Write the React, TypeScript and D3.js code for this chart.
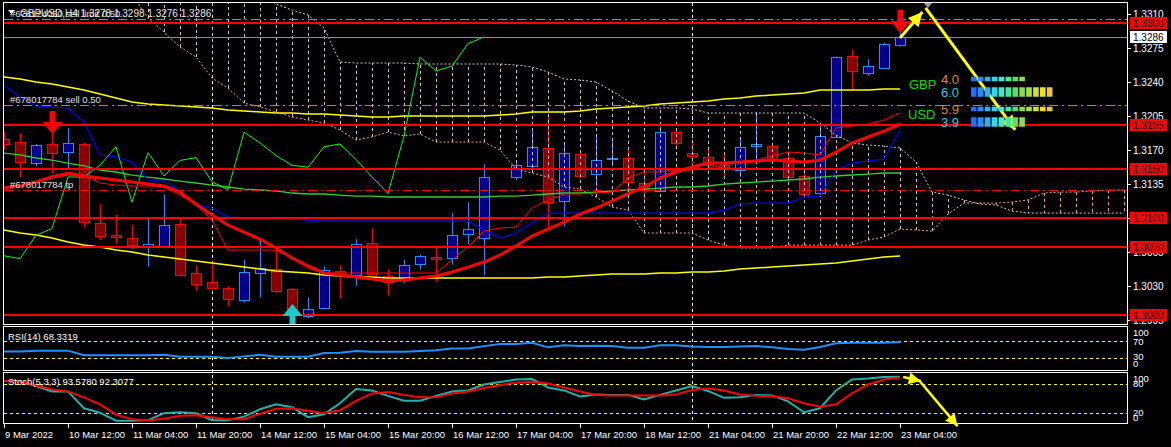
import React from "react";
import * as d3 from "d3";

// ---------- DATA (GBPUSD H4, bars 9 Mar 20:00 .. 23 Mar 04:00) ----------
const opens = [1.3181,1.3178,1.3156,1.3176,1.3168,1.3176,1.3095,1.3082,1.3079,1.3071,
 1.3071,1.3094,1.3043,1.3034,1.3028,1.3016,1.3043,1.3047,1.3027,1.2999,
 1.3007,1.3045,1.3041,1.3074,1.3040,1.3036,1.3053,1.3060,1.3059,1.3083,
 1.3079,1.3142,1.3142,1.3153,1.3172,1.3117,1.3166,1.3145,1.3160,1.3161,
 1.3136,1.3128,1.3188,1.3167,1.3163,1.3154,1.3149,1.3174,1.3174,1.3162,
 1.3143,1.3126,1.3183,1.3266,1.3249,1.3254,1.3278];
const highs = [1.3188,1.3187,1.3176,1.3187,1.3192,1.3177,1.3114,1.3103,1.3093,1.3100,
 1.3124,1.3099,1.3051,1.3055,1.3030,1.3057,1.3078,1.3069,1.3028,1.3018,
 1.3050,1.3051,1.3078,1.3089,1.3047,1.3057,1.3062,1.3069,1.3105,1.3116,
 1.3155,1.3142,1.3157,1.3189,1.3205,1.3175,1.3170,1.3183,1.3182,1.3172,
 1.3147,1.3194,1.3190,1.3177,1.3172,1.3168,1.3183,1.3209,1.3177,1.3168,
 1.3146,1.3195,1.3266,1.3273,1.3263,1.3280,1.3298];
const lows = [1.3170,1.3142,1.3153,1.3146,1.3149,1.3090,1.3077,1.3073,1.3068,1.3050,
 1.3071,1.3040,1.3025,1.3028,1.3009,1.3013,1.3018,1.3023,1.3002,1.2997,
 1.3006,1.3017,1.3030,1.3042,1.3020,1.3033,1.3047,1.3034,1.3052,1.3073,
 1.3041,1.3142,1.3139,1.3147,1.3089,1.3091,1.3141,1.3132,1.3153,1.3129,
 1.3118,1.3128,1.3174,1.3149,1.3149,1.3141,1.3142,1.3155,1.3156,1.3137,
 1.3123,1.3125,1.3183,1.3232,1.3246,1.3254,1.3276];
const closes = [1.3176,1.3157,1.3175,1.3167,1.3177,1.3096,1.3081,1.3080,1.3072,1.3073,
 1.3093,1.3041,1.3032,1.3028,1.3017,1.3044,1.3048,1.3025,1.3005,1.3006,
 1.3046,1.3042,1.3073,1.3042,1.3034,1.3052,1.3061,1.3058,1.3082,1.3089,
 1.3142,1.3142,1.3154,1.3173,1.3116,1.3167,1.3143,1.3159,1.3162,1.3137,
 1.3129,1.3188,1.3177,1.3164,1.3154,1.3152,1.3173,1.3176,1.3160,1.3142,
 1.3125,1.3184,1.3265,1.3251,1.3256,1.3279,1.3286];

const tenkan = [1.31296,1.31327,1.31378,1.31430,1.31471,1.31440,1.31358,1.31337,1.31327,1.31327,
 1.31317,1.31234,1.31132,1.30977,1.30669,1.30669,1.30669,1.30669,1.30587,1.30484,
 1.30433,1.30433,1.30433,1.30433,1.30433,1.30433,1.30433,1.30433,1.30566,1.30700,
 1.30864,1.30895,1.30905,1.31101,1.31183,1.31245,1.31245,1.31255,1.31265,1.31409,
 1.31471,1.31471,1.31491,1.31491,1.31512,1.31543,1.31574,1.31594,1.31635,1.31676,
 1.31666,1.31646,1.31923,1.31944,1.31964,1.32005,1.32077];
const kijun = [1.32365,1.32242,1.32149,1.32139,1.32129,1.31985,1.31646,1.31625,1.31574,1.31389,
 1.31378,1.31286,1.31132,1.31101,1.31008,1.30998,1.30998,1.30998,1.30988,1.30977,
 1.30967,1.30967,1.30967,1.30967,1.30967,1.30967,1.30967,1.30967,1.30967,1.30967,
 1.30875,1.30792,1.30844,1.30947,1.31049,1.31049,1.31049,1.31049,1.31049,1.31049,
 1.31049,1.31049,1.31049,1.31049,1.31049,1.31080,1.31142,1.31152,1.31152,1.31152,
 1.31214,1.31224,1.31491,1.31563,1.31584,1.31605,1.31903];
const SPAN_A_START = 8;
const spanA = [1.3330,1.33054,1.32910,1.32756,1.32653,1.32437,1.32334,1.32180,1.32139,1.32088,
 1.32036,1.32005,1.31975,1.31903,1.31800,1.31831,1.31882,1.31841,1.31862,
 1.31779,1.31779,1.31779,1.31779,
 1.31697,1.31502,1.31461,1.31419,1.31317,1.31296,1.31214,1.31111,1.31080,
 1.30844,1.30844,1.30844,1.30844,1.30772,1.30720,1.30690,1.30690,1.30690,
 1.30720,1.30720,1.30720,1.30720,1.30720,1.30772,1.30803,1.30885,1.30875,1.30864,
 1.31039,1.31152,1.31152,1.31152,1.31162,1.31183,1.31255,1.31265,1.31265,1.31276,1.31286,1.31286];
const SPAN_B_START = 9;
const spanB = [1.3335,1.3335,1.3335,1.3335,1.3335,1.3335,1.3335,1.3329,
 1.33198,1.33136,1.33085,1.32951,1.32602,1.32591,1.32591,1.32591,1.32591,
 1.32581,1.32581,1.32581,1.32581,1.32581,1.32581,
 1.32571,1.32550,1.32499,1.32427,1.32417,1.32396,1.32304,1.32201,
 1.32129,1.32129,1.32129,1.32119,
 1.32077,1.32077,1.32077,1.32077,1.32077,1.32077,1.32077,
 1.31975,1.31851,1.31769,1.31748,1.31738,1.31718,1.31574,1.31265,1.31234,1.31183,1.31142,1.31132,1.31070,
 1.31049,1.31049,1.31049,1.31049,1.31049,1.31049,1.31049];
const maThickRed = [1.31306,1.31327,1.31368,1.31419,1.31450,1.31430,1.31409,1.31389,1.31368,1.31347,
 1.31327,1.31265,1.31142,1.31029,1.30926,1.30854,1.30782,1.30690,1.30587,1.30505,
 1.30433,1.30412,1.30391,1.30371,1.30350,1.30361,1.30381,1.30402,1.30443,1.30494,
 1.30546,1.30618,1.30710,1.30813,1.30885,1.30957,1.31039,1.31101,1.31173,1.31245,
 1.31317,1.31409,1.31471,1.31522,1.31563,1.31563,1.31574,1.31584,1.31594,1.31584,
 1.31574,1.31594,1.31676,1.31769,1.31831,1.31892,1.31964];
const maGreen = [1.31666,1.31646,1.31615,1.31594,1.31563,1.31533,1.31491,1.31471,1.31440,1.31419,
 1.31399,1.31378,1.31358,1.31337,1.31317,1.31296,1.31286,1.31276,1.31255,1.31245,
 1.31245,1.31234,1.31224,1.31224,1.31214,1.31214,1.31214,1.31214,1.31214,1.31214,
 1.31214,1.31224,1.31224,1.31234,1.31245,1.31255,1.31255,1.31265,1.31276,1.31286,
 1.31296,1.31306,1.31317,1.31317,1.31327,1.31347,1.31358,1.31368,1.31378,1.31389,
 1.31399,1.31419,1.31430,1.31440,1.31450,1.31461,1.31461];
const maYellowUpper = [1.32447,1.32427,1.32396,1.32376,1.32345,1.32314,1.32273,1.32232,1.32190,1.32170,
 1.32160,1.32149,1.32139,1.32129,1.32108,1.32098,1.32088,1.32077,1.32077,1.32067,1.32067,
 1.32057,1.32047,1.32036,1.32036,1.32047,1.32047,1.32047,1.32047,1.32047,1.32047,
 1.32057,1.32067,1.32088,1.32088,1.32088,1.32098,1.32119,1.32129,1.32139,1.32149,
 1.32170,1.32180,1.32190,1.32201,1.32221,1.32232,1.32252,1.32262,1.32273,1.32283,
 1.32314,1.32314,1.32314,1.32314,1.32324,1.32324];
const maYellowLower = [1.30875,1.30844,1.30823,1.30792,1.30751,1.30720,1.30700,1.30669,1.30648,1.30618,
 1.30597,1.30577,1.30556,1.30535,1.30515,1.30494,1.30474,1.30453,1.30443,1.30433,1.30412,
 1.30402,1.30391,1.30391,
 1.30381,1.30381,1.30381,1.30381,1.30381,1.30381,1.30381,1.30381,1.30381,1.30381,
 1.30391,1.30391,1.30402,1.30412,1.30422,1.30422,1.30422,1.30433,1.30433,1.30443,1.30443,
 1.30453,1.30474,1.30484,1.30494,1.30505,1.30515,1.30525,1.30535,1.30556,1.30577,1.30597,1.30607];

const rsi = [45,45,47,47,47,36,36,36,36,36,37,32,32,32,29,33,37,32,32,32,41,42,46,44,44,
 44,46,48,52,52,58,63,63,66,55,60,58,59,58,54,54,60,60,57,56,56,57,58,55,51,49,56,65,66,66,66,68.3319];
const stochMain = [85,85,75,64,64,30,21,5,5,6,20,22,20,6,6,13,28,38,32,12,18,40,69,66,
 55,45,45,55,64,66,78,83,88,89,72,66,54,58,57,57,48,57,66,75,65,51,52,57,56,44,22,30,66,88,90,93,93.578];
const stochSignal = [85,84,76,68,64,52,38,17,8,6,9,15,16,12,8,8,19,29,30,25,20,26,45,60,
 63,57,52,52,60,64,71,77,82,83,80,72,64,57,56,56,56,56,58,67,70,66,58,55,54,50,40,33,38,60,78,88,92.3077];

const timeLabels = ["9 Mar 2022","10 Mar 12:00","11 Mar 04:00","11 Mar 20:00","14 Mar 12:00","15 Mar 04:00",
 "15 Mar 20:00","16 Mar 12:00","17 Mar 04:00","17 Mar 20:00","18 Mar 12:00","21 Mar 04:00","21 Mar 20:00",
 "22 Mar 12:00","23 Mar 04:00"];
const timeLabelBars = [0,4,8,12,16,20,24,28,32,36,40,44,48,52,56];
const separatorBars = [13, 43];
const priceTicks = [1.3310,1.3275,1.3240,1.3205,1.3170,1.3135,1.3100,1.3065,1.3030,1.2995];
const levelLines = [1.3300,1.3195,1.3150,1.3100,1.3070,1.3000];
const bidPrice = 1.3286;
const orderLines = [
  { price: 1.3304, label: "#678124050 sell limit 0.50", color: "#32CD32" },
  { price: 1.3216, label: "#678017784 sell 0.50", color: "#32CD32" },
  { price: 1.3129, label: "#678017784 tp", color: "#FF0000" },
];
const sellArrows = [{ bar: 3, price: 1.31862 }, { bar: 56, price: 1.3290 }];
const buyArrows = [{ bar: 18, price: 1.30115 }];
const trendArrows = [
  { from: [56, 1.32848], to: [57.4, 1.33115] },
  { from: [57.6, 1.33157], to: [63.2, 1.31903] },
];
const stochArrows = [
  { from: [56.2, 93], to: [57.3, 85] },
  { from: [57.2, 86], to: [59.6, -6] },
];
const strengthCurrencies = ["GBP", "USD"];
const strengthValues = [[4.0, 6.0], [5.9, 3.9]];
const strengthPalette = ["#1E6FFF","#1E90FF","#22B4F8","#25DCF0","#30F0D0","#3CEBA0",
 "#55E060","#86E040","#ACE040","#D2E030","#F0E020","#F0C830"];

const FONT = "'Liberation Sans', Arial, sans-serif";

function headPts(x1: number, y1: number, x2: number, y2: number, len = 13, half = 6.5) {
  const a = Math.atan2(y2 - y1, x2 - x1);
  const bx = x2 - len * Math.cos(a), by = y2 - len * Math.sin(a);
  const px = -Math.sin(a) * half, py = Math.cos(a) * half;
  return `${x2},${y2} ${bx + px},${by + py} ${bx - px},${by - py}`;
}

export default function App() {
  const x = d3.scaleLinear().domain([0, 70]).range([4, 1124]);
  const y = d3.scaleLinear().domain([1.2995, 1.331]).range([320, 13.5]);
  const yR = d3.scaleLinear().domain([0, 100]).range([369.9, 328.9]);
  const yS = d3.scaleLinear().domain([0, 100]).range([423.1, 373.6]);

  const mk = (sc: (v: number) => number) =>
    d3.line<number | null>().defined((d) => d != null).x((_, i) => x(i)).y((d) => sc(d as number));
  const lp = mk(y), lr = mk(yR), ls = mk(yS);

  const spanAFull: (number | null)[] = [...Array(SPAN_A_START).fill(null), ...spanA];
  const spanBFull: (number | null)[] = [...Array(SPAN_B_START).fill(null), ...spanB];
  const chikou: (number | null)[] = closes.map((_, i) => (i + 26 < closes.length ? closes[i + 26] : null));

  const hatches: JSX.Element[] = [];
  for (let i = 0; i <= 70; i++) {
    const a = spanAFull[i], b = spanBFull[i];
    if (a == null || b == null) continue;
    hatches.push(
      <line key={"h" + i} x1={x(i) + 0.5} x2={x(i) + 0.5} y1={y(a)} y2={y(b)}
        stroke={a >= b ? "#F4A460" : "#D8BFD8"} strokeDasharray="3,3" strokeWidth={1} />
    );
  }

  const candles = opens.map((o, i) => {
    const h = highs[i], l = lows[i], c = closes[i];
    if (h <= l) return null;
    const bull = c >= o;
    const cx = x(i) + 0.5;
    const top = Math.round(y(Math.max(o, c))) + 0.5;
    const bot = Math.round(y(Math.min(o, c))) + 0.5;
    const edge = bull ? "#1E90FF" : "#FF0000";
    return (
      <g key={"c" + i}>
        <line x1={cx} x2={cx} y1={y(h)} y2={y(l)} stroke={edge} strokeWidth={1} />
        <rect x={cx - 5} y={top} width={10} height={Math.max(1, bot - top)}
          fill={bull ? "#00008B" : "#8B0000"} stroke={edge} strokeWidth={1} />
      </g>
    );
  });

  const txt = { fontFamily: FONT, fontSize: 10, fill: "#FFFFFF" } as const;

  return (
    <div style={{ position: "fixed", left: 0, top: 0, width: 1171, height: 447, background: "#000" }}>
      <svg width={1171} height={447} style={{ display: "block", background: "#000" }}>
        <defs>
          <clipPath id="mainClip"><rect x={4} y={3} width={1123} height={321} /></clipPath>
        </defs>

        {/* period separators */}
        {separatorBars.map((b) => (
          <line key={"sep" + b} x1={x(b) + 0.5} x2={x(b) + 0.5} y1={3} y2={423}
            stroke="#FFFFFF" strokeDasharray="3,3" strokeWidth={1} />
        ))}

        <g clipPath="url(#mainClip)">
          {candles}
          {hatches}
          <path d={lp(spanAFull) || ""} fill="none" stroke="#F4A460" strokeDasharray="2,2" />
          <path d={lp(spanBFull) || ""} fill="none" stroke="#D8BFD8" strokeDasharray="2,2" />
          <path d={lp(maYellowUpper) || ""} fill="none" stroke="#FFFF00" strokeWidth={1.5} />
          <path d={lp(maYellowLower) || ""} fill="none" stroke="#FFFF00" strokeWidth={1.5} />
          <path d={lp(maGreen) || ""} fill="none" stroke="#32CD32" strokeWidth={1.3} />
          <path d={lp(kijun) || ""} fill="none" stroke="#0000FF" strokeWidth={1.2} />
          <path d={lp(chikou) || ""} fill="none" stroke="#00FF00" strokeWidth={1} />
          <path d={lp(tenkan) || ""} fill="none" stroke="#FF0000" strokeWidth={1} />
          <path d={lp(maThickRed) || ""} fill="none" stroke="#FF0000" strokeWidth={3} />

          {/* order lines */}
          {orderLines.map((o, k) => (
            <line key={"ol" + k} x1={4} x2={1127} y1={Math.round(y(o.price)) + 0.5} y2={Math.round(y(o.price)) + 0.5}
              stroke={o.color} strokeDasharray="9,4,2,4" strokeWidth={1} />
          ))}
          {/* bid line */}
          <line x1={4} x2={1127} y1={Math.round(y(bidPrice)) + 0.5} y2={Math.round(y(bidPrice)) + 0.5} stroke="#8C8C8C" />
          {/* level lines */}
          {levelLines.map((p) => (
            <line key={"lv" + p} x1={4} x2={1130} y1={Math.round(y(p))} y2={Math.round(y(p))} stroke="#FF0000" strokeWidth={2} />
          ))}
          {/* signal arrows */}
          {sellArrows.map((a, k) => {
            const cx = x(a.bar) + 0.5, ty = y(a.price);
            return (
              <path key={"sa" + k} fill="#FF0000"
                d={`M${cx - 3},${ty - 23}H${cx + 3}V${ty - 12}H${cx + 10}L${cx},${ty}L${cx - 10},${ty - 12}H${cx - 3}Z`} />
            );
          })}
          {buyArrows.map((a, k) => {
            const cx = x(a.bar) + 0.5, ty = y(a.price);
            return (
              <path key={"ba" + k} fill="#1CCACA"
                d={`M${cx - 3},${ty + 23}H${cx + 3}V${ty + 12}H${cx + 10}L${cx},${ty}L${cx - 10},${ty + 12}H${cx - 3}Z`} />
            );
          })}
        </g>

        {/* order labels and header */}
        {orderLines.map((o, k) => (
          <text key={"olt" + k} x={10} y={Math.round(y(o.price)) - 2} {...txt} fontSize={9.5} fill="#E0E0E0">{o.label}</text>
        ))}
        <path d="M8,10 L15,10 L11.5,14 Z" fill="#FFFFFF" />
        <text x={20} y={17} {...txt} fill="#E6E6E6">GBPUSD,H4  1.3278 1.3298 1.3276 1.3286</text>

        {/* trend arrows */}
        {trendArrows.map((a, k) => {
          const x1 = x(a.from[0]), y1 = y(a.from[1]), x2 = x(a.to[0]), y2 = y(a.to[1]);
          return (
            <g key={"ta" + k}>
              <line x1={x1} y1={y1} x2={x2} y2={y2} stroke="#FFFF00" strokeWidth={3} />
              <polygon points={headPts(x1, y1, x2, y2, 14, 7)} fill="#FFFF00" />
            </g>
          );
        })}
        <polygon points={`${x(57.75) - 4},3 ${x(57.75) + 4},3 ${x(57.75)},8`} fill="#9A9A9A" />

        {/* currency strength */}
        {strengthCurrencies.map((cur, ci) => {
          const base = ci === 0 ? 79 : 109;
          return (
            <g key={"st" + ci}>
              <text x={ci === 0 ? 909 : 908} y={base + 10} fontFamily={FONT} fontSize={13} fill="#00E000">{cur}</text>
              {strengthValues[ci].map((v, r) => {
                const cy = base + r * 13;
                const n = Math.round(v * 2);
                const hgt = r === 0 ? 4.5 : 9.5;
                return (
                  <g key={"sr" + r}>
                    <text x={941} y={cy + 5} fontFamily={FONT} fontSize={13}
                      fill={r === 0 ? "#E08A00" : "#22CCE6"}>{v.toFixed(1)}</text>
                    {d3.range(n).map((b) => (
                      <rect key={b} x={971 + b * 6.9} y={cy - hgt / 2} width={5.6} height={hgt} fill={strengthPalette[b]} />
                    ))}
                  </g>
                );
              })}
            </g>
          );
        })}

        {/* panel borders */}
        <rect x={3.5} y={2.5} width={1124} height={322} fill="none" stroke="#FFFFFF" />
        <rect x={3.5} y={326.5} width={1124} height={44} fill="none" stroke="#FFFFFF" />
        <rect x={3.5} y={372.5} width={1124} height={51} fill="none" stroke="#FFFFFF" />

        {/* price axis */}
        {priceTicks.map((p) => (
          <g key={"pt" + p}>
            <line x1={1128} x2={1131} y1={Math.round(y(p)) + 0.5} y2={Math.round(y(p)) + 0.5} stroke="#FFFFFF" />
            <text x={1133} y={y(p) + 4} {...txt}>{p.toFixed(4)}</text>
          </g>
        ))}
        {levelLines.map((p) => (
          <g key={"lvl" + p}>
            <rect x={1130} y={Math.round(y(p)) - 6} width={37} height={12} fill="#FF0000" />
            <text x={1133} y={Math.round(y(p)) + 4} {...txt} fill="#000000">{p.toFixed(4)}</text>
          </g>
        ))}
        <rect x={1130} y={Math.round(y(bidPrice)) - 6} width={37} height={12} fill="#FFFFFF" />
        <text x={1133} y={Math.round(y(bidPrice)) + 4} {...txt} fill="#000000">{bidPrice.toFixed(4)}</text>

        {/* RSI panel */}
        {[70, 30].map((v) => (
          <line key={"rl" + v} x1={4} x2={1127} y1={Math.round(yR(v)) + 0.5} y2={Math.round(yR(v)) + 0.5}
            stroke="#FFFF00" strokeDasharray="3,3" />
        ))}
        <path d={lr(rsi) || ""} fill="none" stroke="#1E90FF" strokeWidth={2} />
        <text x={8} y={340} {...txt} fontSize={9.5}>RSI(14) 68.3319</text>
        <text x={1133} y={336} {...txt} fontSize={9.5}>100</text>
        <text x={1133} y={345} {...txt} fontSize={9.5}>70</text>
        <text x={1133} y={360} {...txt} fontSize={9.5}>30</text>
        <text x={1133} y={367} {...txt} fontSize={9.5}>0</text>

        {/* Stoch panel */}
        {[80, 20].map((v) => (
          <line key={"sl" + v} x1={4} x2={1127} y1={Math.round(yS(v)) + 0.5} y2={Math.round(yS(v)) + 0.5}
            stroke="#FFFF00" strokeDasharray="3,3" />
        ))}
        <path d={ls(stochMain) || ""} fill="none" stroke="#20B2AA" strokeWidth={2} />
        <path d={ls(stochSignal) || ""} fill="none" stroke="#FF0000" strokeWidth={2} />
        <text x={8} y={385} {...txt} fontSize={9.5}>Stoch(5,3,3) 93.5780 92.3077</text>
        <text x={1133} y={382} {...txt} fontSize={9.5}>100</text>
        <text x={1133} y={387} {...txt} fontSize={9.5}>80</text>
        <text x={1133} y={416} {...txt} fontSize={9.5}>20</text>
        <text x={1133} y={421} {...txt} fontSize={9.5}>0</text>
        {stochArrows.map((a, k) => {
          const x1 = x(a.from[0]), y1 = yS(a.from[1]), x2 = x(a.to[0]), y2 = yS(a.to[1]);
          return (
            <g key={"sa2" + k}>
              <line x1={x1} y1={y1} x2={x2} y2={y2} stroke="#FFFF00" strokeWidth={2.5} />
              <polygon points={headPts(x1, y1, x2, y2, 12, 6)} fill="#FFFF00" />
            </g>
          );
        })}

        {/* time axis */}
        {timeLabelBars.map((b, k) => (
          <g key={"tl" + b}>
            <line x1={x(b) + 0.5} x2={x(b) + 0.5} y1={424} y2={428} stroke="#FFFFFF" />
            <text x={x(b) + 1} y={438} {...txt} fontSize={9.5}>{timeLabels[k]}</text>
          </g>
        ))}
      </svg>
    </div>
  );
}
